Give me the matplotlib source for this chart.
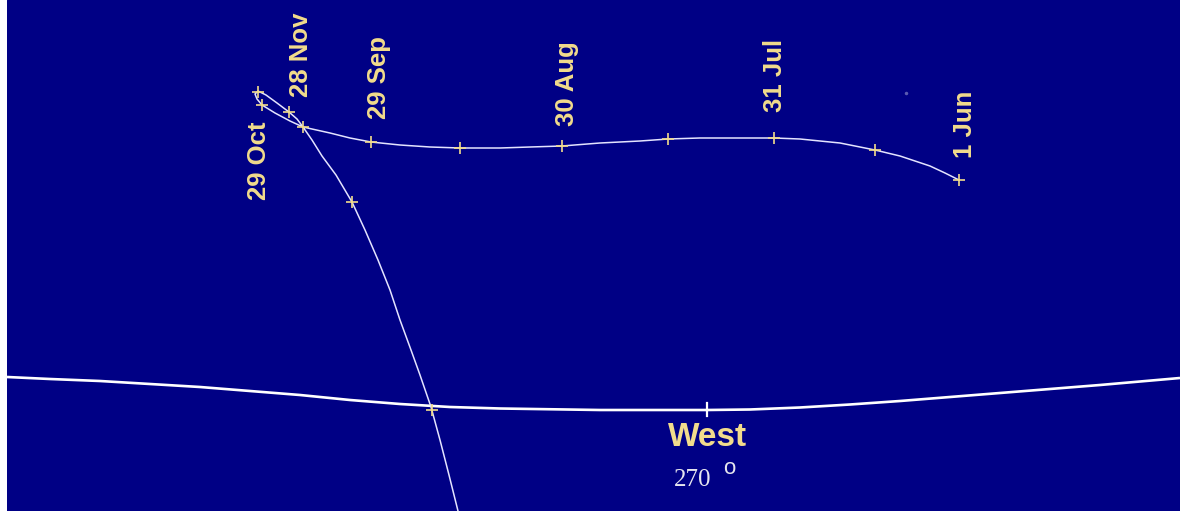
import matplotlib
matplotlib.use("Agg")
import matplotlib.pyplot as plt

# ---- data (sky-chart coordinates) ----
track_x = [959, 945, 930, 915, 900, 875, 840, 800, 774, 740, 700, 668, 640, 600, 562, 530, 500, 460,
           430, 400, 371, 350, 330, 303, 290, 275, 262, 257, 255, 258, 266, 277, 289, 297,
           303, 312, 322, 336, 352, 365, 378, 390, 400, 411, 420, 431, 440, 449, 458]
track_y = [180, 173, 166, 161, 156, 150, 143, 139, 138, 138, 138, 139, 141, 143, 146, 147, 148, 148,
           147, 145, 142, 138, 133, 127, 121, 113, 105, 99, 94, 91, 95, 103, 112, 119,
           127, 140, 156, 175, 202, 230, 260, 290, 320, 350, 375, 407, 440, 475, 511]

marker_x = [959, 875, 774, 668, 562, 460, 371, 303, 262, 258, 289, 352, 432]
marker_y = [180, 150, 138, 139, 146, 148, 142, 127, 105, 92, 112, 202, 410]

date_labels = ["1 Jun", "31 Jul", "30 Aug", "29 Sep", "28 Nov", "29 Oct"]
label_x = [965, 775, 567, 379, 301, 259]
label_y = [124, 75, 84, 78, 55, 161]

horizon_x = [7, 50, 100, 150, 200, 250, 300, 350, 400, 450, 500, 600, 707,
             750, 800, 850, 900, 950, 1000, 1050, 1100, 1140, 1180]
horizon_y = [377, 379, 381, 384, 387, 391, 395, 400, 404, 407, 408.5, 410, 410,
             409.5, 407.5, 404.5, 401, 397, 393, 389, 385, 381.5, 378]

direction_label = "West"
azimuth_label = "270"
azimuth_x = 707

# ---- styling ----
BG = "#000085"
YEL = "#F2DC8C"
LINE = "#E4E4FF"

W, H = 1182, 511
fig = plt.figure(figsize=(W / 100, H / 100), dpi=100, facecolor="white")
ax = fig.add_axes([7 / W, 0, (1180 - 7) / W, 1])
ax.set_facecolor(BG)
ax.set_xlim(7, 1180)
ax.set_ylim(511, 0)
ax.axis("off")
ax.add_patch(plt.Rectangle((7, 0), 1173, 511, color=BG, zorder=0))

# horizon
ax.plot(horizon_x, horizon_y, color="white", lw=1.9, zorder=2, solid_capstyle="butt")
ax.plot([azimuth_x, azimuth_x], [403, 416], color="white", lw=1.6, zorder=2)

# track
ax.plot(track_x, track_y, color=LINE, lw=1.1, zorder=3, solid_joinstyle="round")
ax.plot(marker_x, marker_y, linestyle="none", marker="+", markersize=8,
        markeredgewidth=1.2, color=YEL, zorder=4)

# faint star
ax.plot([906], [93], marker="o", markersize=1.5, color="#5a5ab0", linestyle="none")

# date labels
for t, x, y in zip(date_labels, label_x, label_y):
    ax.text(x, y, t, rotation=90, ha="center", va="center", color=YEL,
            fontsize=18.5, fontweight="bold", family=["Liberation Sans", "DejaVu Sans"])

ax.text(708, 437, direction_label, ha="center", va="center", color=YEL,
        fontsize=24, fontweight="bold", family=["Liberation Sans", "DejaVu Sans"])
ax.text(693, 480, azimuth_label, ha="center", va="center", color="#E6E6EE",
        fontsize=18, family=["Liberation Serif", "DejaVu Serif"])
ax.text(729, 468, "o", ha="center", va="center", color="#E6E6EE",
        fontsize=16, family=["Liberation Sans", "DejaVu Sans"])

fig.savefig("out.png", dpi=100, facecolor="white")
